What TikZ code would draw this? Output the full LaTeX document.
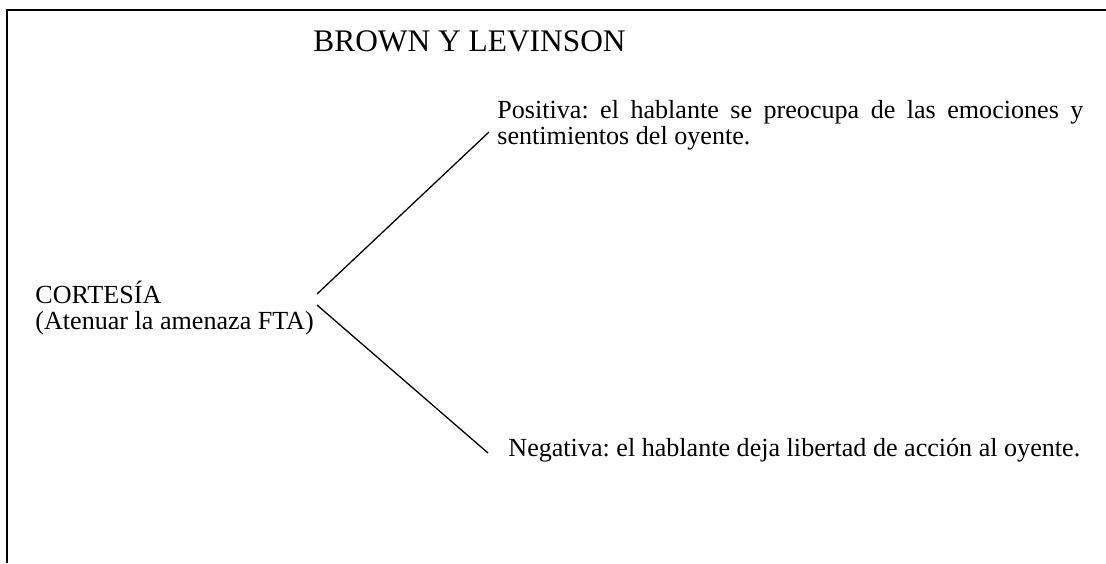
\documentclass[tikz,border=0pt]{standalone}
\usepackage{fontspec}
\setmainfont{Liberation Serif}
\begin{document}
\frenchspacing
\begin{tikzpicture}[x=0.5pt,y=-0.5pt,
  body/.style={font=\fontsize{13.05}{13.25}\selectfont, inner sep=0pt, align=left, anchor=base west},
  heading/.style={font=\fontsize{15.7}{18}\selectfont, inner sep=0pt, anchor=base west},
  branch/.style={line width=0.65pt},
  frame/.style={line width=1pt}]
\useasboundingbox (0,0) rectangle (1106,563);
% open frame: top and left edges only
\draw[frame] (7,563) -- (7,10) -- (1106,10);

\node[heading] (title) at (313,51.7) {BROWN Y LEVINSON};
% multi-line nodes are placed by the baseline of their last line
\node[body] (cort) at (35,329.8) {CORTESÍA\\(Atenuar la amenaza FTA)};
\node[body] (pos) at (497,144.8) {\hbox to 293pt{Positiva: el hablante se preocupa de las emociones y}\\sentimientos del oyente.};
\node[body] (neg) at (508,456.7) {Negativa: el hablante deja libertad de acción al oyente.};

\coordinate (up-start) at (317,294);
\coordinate (up-end) at (489,132);
\coordinate (low-start) at (317,305);
\coordinate (low-end) at (488,453);
\draw[branch] (up-start) -- (up-end);
\draw[branch] (low-start) -- (low-end);
\end{tikzpicture}
\end{document}
